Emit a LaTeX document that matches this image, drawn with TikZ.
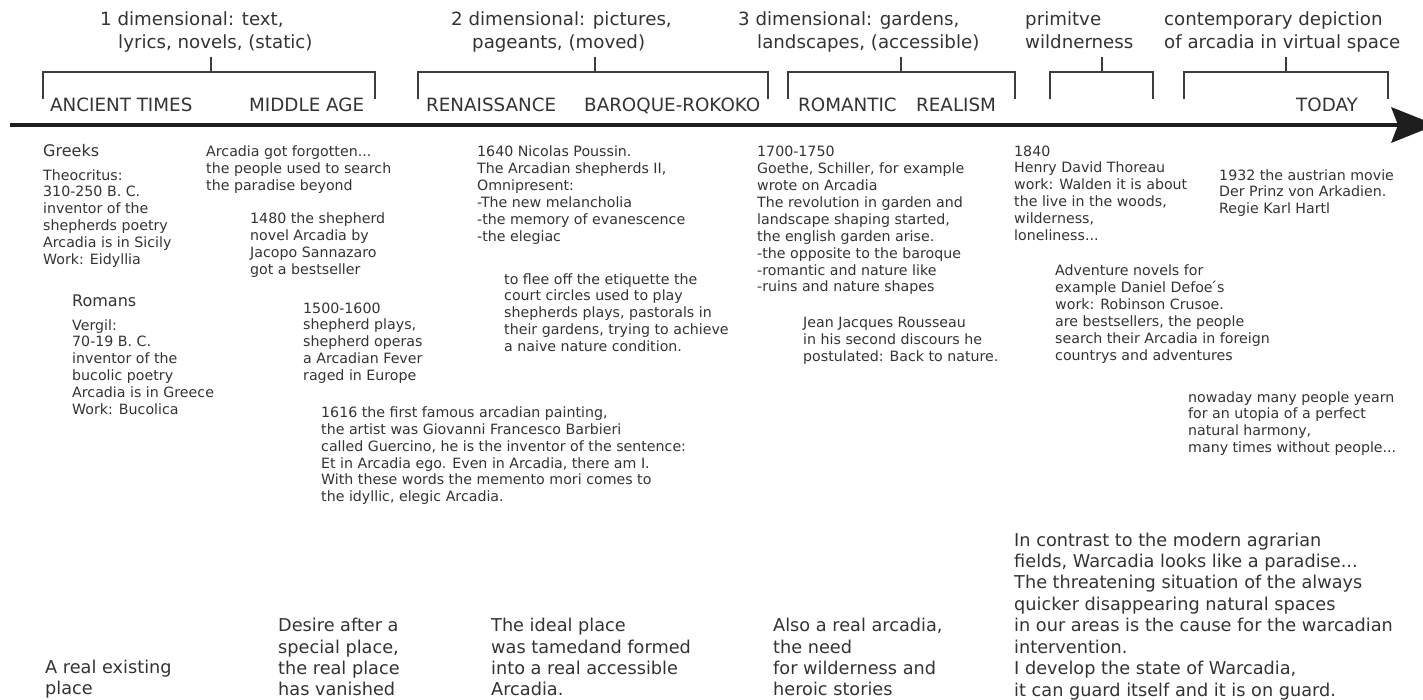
\documentclass[tikz,border=0pt]{standalone}
\usepackage{fontspec}
\setmainfont{DejaVu Sans}
\definecolor{txt}{RGB}{51,51,51}
\definecolor{ln}{RGB}{60,60,60}
\definecolor{axc}{RGB}{30,30,30}
\tikzset{
  body/.style={anchor=base west, inner sep=0pt, align=left, text=txt, font=\fontsize{14.2}{16.9}\selectfont},
  tag/.style={anchor=base west, inner sep=0pt, align=left, text=txt, font=\fontsize{16}{19}\selectfont},
  big/.style={anchor=base west, inner sep=0pt, align=left, text=txt, font=\fontsize{17.7}{21.45}\selectfont},
  head/.style={anchor=base west, inner sep=0pt, align=left, text=txt, font=\fontsize{18.2}{23.5}\selectfont},
  era/.style={anchor=base west, inner sep=0pt, text=txt, font=\fontsize{18.3}{20}\selectfont},
  brk/.style={draw=ln, line width=1.3pt},
  axis/.style={draw=axc, line width=4.5pt},
  ahead/.style={fill=axc, draw=none}
}
\begin{document}
\begin{tikzpicture}[x=1pt,y=-1pt]
\useasboundingbox (0,0) rectangle (1423,699);
% timeline
\coordinate (t0) at (10,125);
\coordinate (t1) at (1400,125);
\draw[axis] (t0) -- (t1);
\fill[ahead] (1391,107) -- (1436,125) -- (1391,143) -- (1398,125) -- cycle;
% brackets
\foreach \l/\r/\c [count=\i] in {43/375/211, 418/768/595, 788/1015/901, 1050/1153/1102, 1184/1388/1286}{
  \coordinate (bl\i) at (\l,99);
  \coordinate (br\i) at (\r,99);
  \coordinate (bc\i) at (\c,72);
  \coordinate (bt\i) at (\c,57);
  \draw[brk] (bl\i) -- (\l,72) -- (\r,72) -- (br\i);
  \draw[brk] (bc\i) -- (bt\i);
}
% headers (anchor = baseline of last line)
\node[head] (h1) at (100,48.5) {1 dimensional: text,\\\hspace*{18pt}lyrics, novels, (static)};
\node[head] (h2) at (451,48.5) {2 dimensional: pictures,\\\hspace*{21pt}pageants, (moved)};
\node[head] (h3) at (738,48.5) {3 dimensional: gardens,\\\hspace*{19pt}landscapes, (accessible)};
\node[head] (h4) at (1025,48.5) {primitve\\wildnerness};
\node[head] (h5) at (1164,48.5) {contemporary depiction\\of arcadia in virtual space};
% eras
\node[era] (e1) at (50,111.7) {ANCIENT TIMES};
\node[era] (e2) at (249,111.7) {MIDDLE AGE};
\node[era] (e3) at (426,111.7) {RENAISSANCE};
\node[era] (e4) at (584,111.7) {BAROQUE-ROKOKO};
\node[era] (e5) at (798,111.7) {ROMANTIC};
\node[era] (e6) at (916,111.7) {REALISM};
\node[era] (e7) at (1296,111.7) {TODAY};
% body blocks
\node[tag] (greeks) at (43,156) {Greeks};
\node[body] (theo) at (43,264.5) {Theocritus:\\310-250 B. C.\\inventor of the\\shepherds poetry\\Arcadia is in Sicily\\Work: Eidyllia};
\node[tag] (romans) at (72,306.7) {Romans};
\node[body] (vergil) at (72,414.5) {Vergil:\\70-19 B. C.\\inventor of the\\bucolic poetry\\Arcadia is in Greece\\Work: Bucolica};
\node[body] (forgot) at (206,190.5) {Arcadia got forgotten...\\the people used to search\\the paradise beyond};
\node[body] (b1480) at (250,274) {1480 the shepherd\\novel Arcadia by\\Jacopo Sannazaro\\got a bestseller};
\node[body] (b1500) at (303,380.6) {1500-1600\\shepherd plays,\\shepherd operas\\a Arcadian Fever\\raged in Europe};
\node[body] (b1616) at (321,501.8) {1616 the first famous arcadian painting,\\the artist was Giovanni Francesco Barbieri\\called Guercino, he is the inventor of the sentence:\\Et in Arcadia ego. Even in Arcadia, there am I.\\With these words the memento mori comes to\\the idyllic, elegic Arcadia.};
\node[body] (b1640) at (477,241.2) {1640 Nicolas Poussin.\\The Arcadian shepherds II,\\Omnipresent:\\-The new melancholia\\-the memory of evanescence\\-the elegiac};
\node[body] (flee) at (504,351.6) {to flee off the etiquette the\\court circles used to play\\shepherds plays, pastorals in\\their gardens, trying to achieve\\a naive nature condition.};
\node[body] (b1700) at (757,291.9) {1700-1750\\Goethe, Schiller, for example\\wrote on Arcadia\\The revolution in garden and\\landscape shaping started,\\the english garden arise.\\-the opposite to the baroque\\-romantic and nature like\\-ruins and nature shapes};
\node[body] (rousseau) at (803,361.1) {Jean Jacques Rousseau\\in his second discours he\\postulated: Back to nature.};
\node[body] (b1840) at (1014,240.5) {1840\\Henry David Thoreau\\work: Walden it is about\\the live in the woods,\\wilderness,\\loneliness...};
\node[body] (b1932) at (1219,213.8) {1932 the austrian movie\\Der Prinz von Arkadien.\\Regie Karl Hartl};
\node[body] (advent) at (1055,360) {Adventure novels for\\example Daniel Defoe\'{}s\\work: Robinson Crusoe.\\are bestsellers, the people\\search their Arcadia in foreign\\countrys and adventures};
\node[body] (nowaday) at (1188,452.7) {nowaday many people yearn\\for an utopia of a perfect\\natural harmony,\\many times without people...};
% bottom blocks
\node[big] (real) at (45,694.5) {A real existing\\place};
\node[big] (desire) at (278,695.9) {Desire after a\\special place,\\the real place\\has vanished};
\node[big] (ideal) at (491,695.9) {The ideal place\\was tamedand formed\\into a real accessible\\Arcadia.};
\node[big] (also) at (773,695.9) {Also a real arcadia,\\the need\\for wilderness and\\heroic stories};
\node[big] (contrast) at (1014,696.2) {In contrast to the modern agrarian\\fields, Warcadia looks like a paradise...\\The threatening situation of the always\\quicker disappearing natural spaces\\in our areas is the cause for the warcadian\\intervention.\\I develop the state of Warcadia,\\it can guard itself and it is on guard.};
\end{tikzpicture}
\end{document}
